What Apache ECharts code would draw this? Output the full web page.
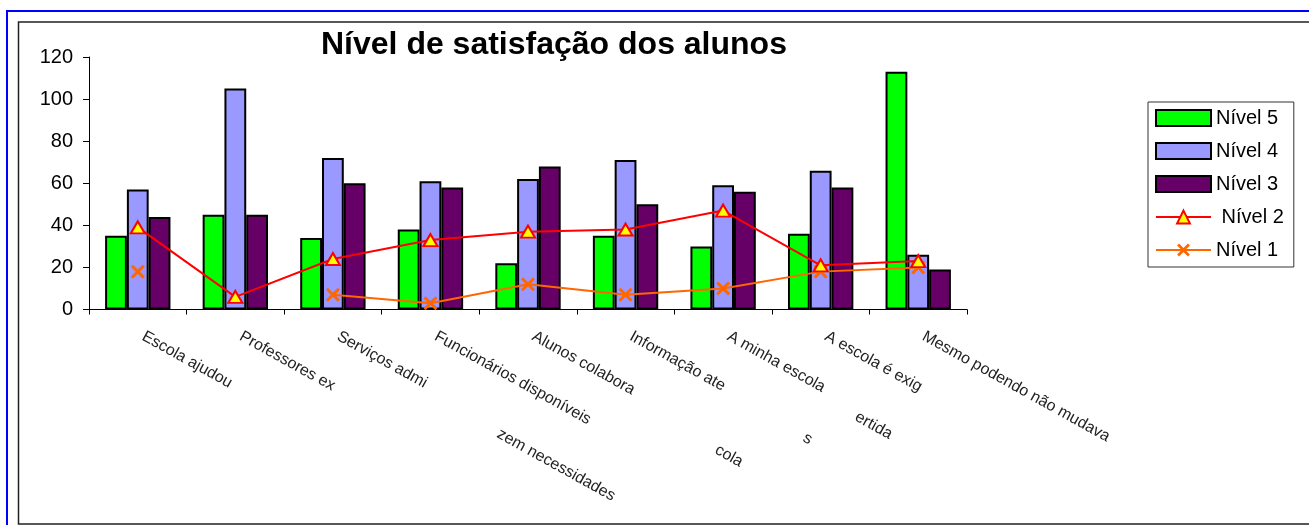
<!DOCTYPE html>
<html>
<head>
<meta charset="utf-8">
<script src="https://cdn.jsdelivr.net/npm/echarts@6/dist/echarts.min.js"></script>
<style>
  html, body { margin: 0; padding: 0; background: #fff; }
  #chart { width: 1309px; height: 525px; }
</style>
</head>
<body>
<div id="chart"></div>
<script>
// Survey questions (x axis) and counts per satisfaction level
const categories = [
  'Escola ajudou',
  'Professores ex',
  'Serviços admi',
  'Funcionários disponíveis',
  'Alunos colabora',
  'Informação ate',
  'A minha escola',
  'A escola é exig',
  'Mesmo podendo não mudava'
];
const nivel5 = [35, 45, 34, 38, 22, 35, 30, 36, 113];
const nivel4 = [57, 105, 72, 61, 62, 71, 59, 66, 26];
const nivel3 = [44, 45, 60, 58, 68, 50, 56, 58, 19];
const nivel2 = [39, 6, 24, 33, 37, 38, 47, 21, 23];
const nivel1 = [18, null, 7, 3, 12, 7, 10, 18, 20];
const yTicks = { min: 0, max: 120, step: 20 };

// stray second-line fragments of the wrapped question labels
const labelFragments = [
  { text: 'zem necessidades', x: 502, y: 426 },
  { text: 'cola', x: 720, y: 442 },
  { text: 's', x: 808, y: 430 },
  { text: 'ertida', x: 860, y: 409 }
];

const FONT = '"Liberation Sans", Arial, sans-serif';
const LABEL_ROT = -29;
const crossPath = 'path://M0,1.5L1.5,0L5,3.5L8.5,0L10,1.5L6.5,5L10,8.5L8.5,10L5,6.5L1.5,10L0,8.5L3.5,5Z';

const chart = echarts.init(document.getElementById('chart'), null, { renderer: 'canvas' });

const graphics = [
  { type: 'rect', silent: true, z: -10,
    shape: { x: 7, y: 11, width: 1400, height: 600 },
    style: { fill: 'none', stroke: '#0000FF', lineWidth: 2 } },
  { type: 'rect', silent: true, z: -10,
    shape: { x: 18.5, y: 22, width: 1400, height: 502 },
    style: { fill: 'none', stroke: '#222', lineWidth: 1.5 } }
].concat(labelFragments.map(f => ({
  type: 'text', silent: true,
  x: f.x, y: f.y,
  rotation: LABEL_ROT * Math.PI / 180,
  style: { text: f.text, fontFamily: FONT, fontSize: 16, fill: '#222',
           textAlign: 'left', textVerticalAlign: 'top' }
})));

const barBase = { type: 'bar', barGap: '0%', barCategoryGap: '33%' };
const barLegendStyle = { borderColor: '#000', borderWidth: 2 };

chart.setOption({
  animation: false,
  backgroundColor: '#fff',
  graphic: graphics,
  title: {
    text: 'Nível de satisfação dos alunos',
    left: 321, top: 29, padding: 0,
    textStyle: { fontFamily: FONT, fontSize: 32, fontWeight: 'bold', color: '#000' }
  },
  legend: {
    orient: 'vertical',
    left: 1148, top: 102,
    padding: [6, 10, 7, 7],
    itemWidth: 55, itemHeight: 16, itemGap: 13,
    borderColor: '#333', borderWidth: 1,
    textStyle: { fontFamily: FONT, fontSize: 20, color: '#000', lineHeight: 20 },
    formatter: name => (name === 'Nível 2' ? ' ' + name : name),
    data: [
      { name: 'Nível 5', icon: 'rect', itemStyle: barLegendStyle },
      { name: 'Nível 4', icon: 'rect', itemStyle: barLegendStyle },
      { name: 'Nível 3', icon: 'rect', itemStyle: barLegendStyle },
      { name: 'Nível 2' },
      { name: 'Nível 1' }
    ]
  },
  grid: { left: 89, right: 342, top: 57, bottom: 215.5, containLabel: false },
  xAxis: {
    type: 'category',
    data: categories,
    boundaryGap: true,
    axisLine: { lineStyle: { color: '#000', width: 1 } },
    axisTick: { show: true, length: 5, lineStyle: { color: '#000' } },
    axisLabel: {
      interval: 0, rotate: LABEL_ROT, margin: 23,
      padding: [0, 0, 0, 6],
      fontFamily: FONT, fontSize: 16, color: '#222'
    },
    splitLine: { show: false }
  },
  yAxis: {
    type: 'value',
    min: yTicks.min, max: yTicks.max, interval: yTicks.step,
    axisLine: { show: true, lineStyle: { color: '#000', width: 1 } },
    axisTick: { show: true, length: 6, lineStyle: { color: '#000' } },
    axisLabel: { margin: 16, fontFamily: FONT, fontSize: 20, color: '#000' },
    splitLine: { show: false }
  },
  series: [
    Object.assign({}, barBase, { name: 'Nível 5', data: nivel5,
      itemStyle: { color: '#00FF00', borderColor: '#000', borderWidth: 2 } }),
    Object.assign({}, barBase, { name: 'Nível 4', data: nivel4,
      itemStyle: { color: '#9999FF', borderColor: '#000', borderWidth: 2 } }),
    Object.assign({}, barBase, { name: 'Nível 3', data: nivel3,
      itemStyle: { color: '#660066', borderColor: '#000', borderWidth: 2 } }),
    {
      name: 'Nível 2', type: 'line', data: nivel2,
      symbol: 'triangle', symbolSize: [14, 12], showAllSymbol: true,
      lineStyle: { color: '#FF0000', width: 2 },
      itemStyle: { color: '#FFFF00', borderColor: '#FF0000', borderWidth: 2 },
      z: 5
    },
    {
      name: 'Nível 1', type: 'line', data: nivel1,
      connectNulls: false,
      symbol: crossPath, symbolSize: 14, showAllSymbol: true,
      lineStyle: { color: '#FF6600', width: 2 },
      itemStyle: { color: '#FF6600', borderWidth: 0 },
      z: 4
    }
  ]
});
</script>
</body>
</html>
